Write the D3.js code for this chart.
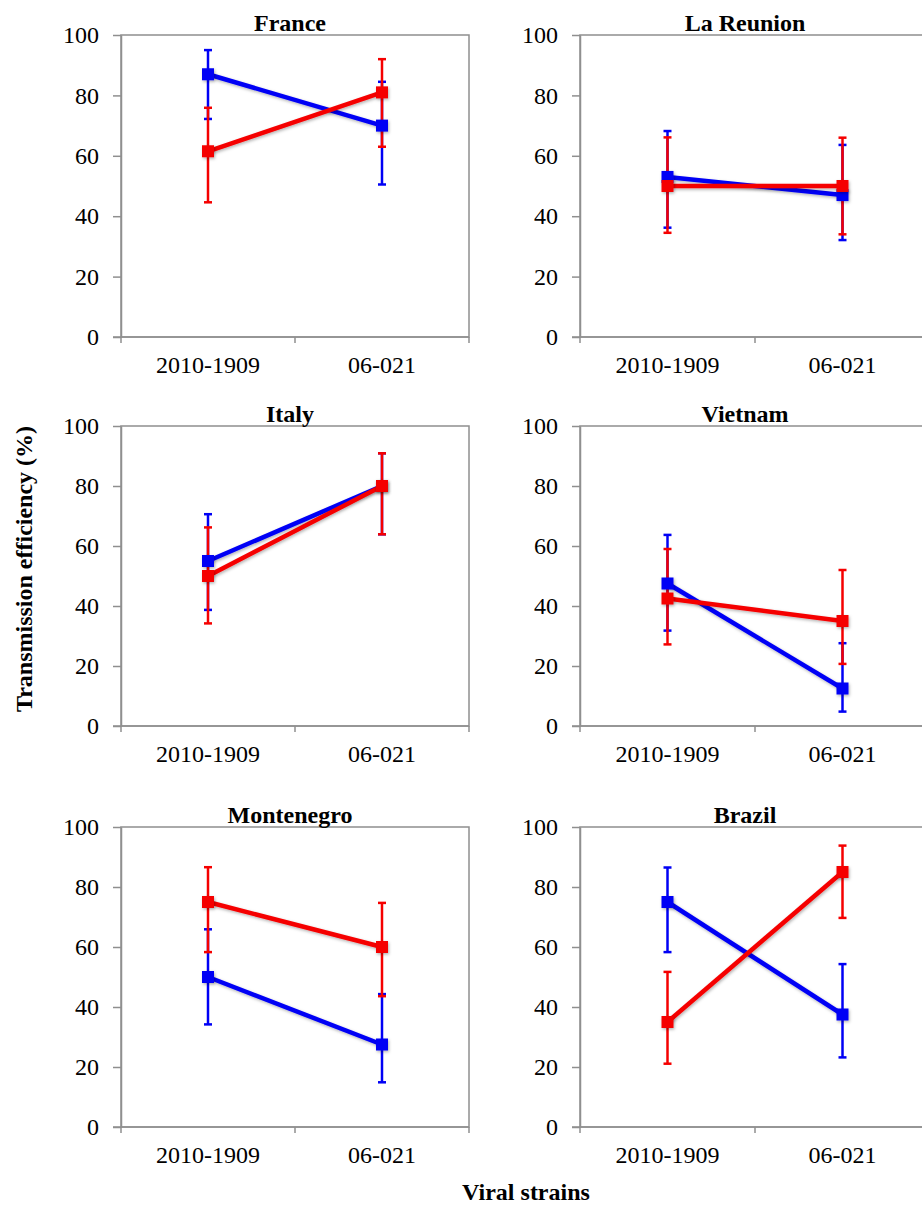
<!DOCTYPE html>
<html>
<head>
<meta charset="utf-8">
<script src="https://cdn.jsdelivr.net/npm/d3@7"></script>
<style>
  body { margin: 0; background: #fff; }
  svg { display: block; }
  svg text { font-family: "Liberation Serif", "Times New Roman", serif; }
</style>
</head>
<body>
<div id="chart"></div>
<script>
// Data (percent), one pair of values per country
const countries = ["France", "La Reunion", "Italy", "Vietnam", "Montenegro", "Brazil"];
const strains = ["2010-1909", "06-021"];
const yTicks = [0, 20, 40, 60, 80, 100];

const blueValues = [[87, 70], [53, 47], [55, 80], [47.5, 12.5], [50, 27.5], [75, 37.5]];
const blueLower  = [[72.2, 50.5], [36.2, 32.1], [38.7, 63.9], [31.8, 4.8], [34.2, 14.9], [58.3, 23.2]];
const blueUpper  = [[95, 84.5], [68.2, 63.6], [70.6, 90.9], [63.7, 27.6], [65.9, 44.3], [86.5, 54.3]];

const redValues = [[61.5, 81], [50, 50], [50, 80], [42.5, 35], [75, 60], [35, 85]];
const redLower  = [[44.6, 63], [34.5, 34], [34.2, 63.9], [27.2, 20.7], [58.3, 43.6], [21.1, 69.7]];
const redUpper  = [[75.9, 92], [66.1, 66], [66.2, 90.9], [59, 52], [86.6, 74.7], [51.7, 93.8]];

const series = [
  {color: "#0000f5", values: blueValues, lower: blueLower, upper: blueUpper},
  {color: "#f50000", values: redValues, lower: redLower, upper: redUpper}
];

// Page layout
const W = 922, H = 1205;
const colX = [121, 580], colW = [348, 350], titleX = [290, 745];
const rowTop = [35, 426, 827], rowH = [302, 300, 300];
const frameColor = "#8f8f8f";
const serif = "'Liberation Serif', 'Times New Roman', serif";

const svg = d3.select("#chart").append("svg")
    .attr("width", W)
    .attr("height", H);

// soft shadow like the original markers (user space, so flat lines keep it)
const defs = svg.append("defs");
defs.append("filter")
    .attr("id", "shadow")
    .attr("filterUnits", "userSpaceOnUse")
    .attr("x", 0).attr("y", 0).attr("width", W).attr("height", H)
  .append("feDropShadow")
    .attr("dx", 1).attr("dy", 1.5).attr("stdDeviation", 1.5)
    .attr("flood-color", "#000").attr("flood-opacity", 0.3);

countries.forEach(function(country, i) {
  const col = i % 2, row = Math.floor(i / 2);
  const x0 = colX[col], w = colW[col], top = rowTop[row], h = rowH[row];

  const x = d3.scaleBand().domain(strains).range([x0, x0 + w]);
  const y = d3.scaleLinear().domain([0, 100]).range([top + h, top]);
  const cx = function(s) { return x(s) + x.bandwidth() / 2; };

  const g = svg.append("g");

  // plot frame
  g.append("rect")
      .attr("x", x0).attr("y", top)
      .attr("width", w).attr("height", h)
      .attr("fill", "none")
      .attr("stroke", frameColor)
      .attr("stroke-width", 1.5);

  // Y axis
  const yAxis = g.append("g")
      .attr("transform", `translate(${x0},0)`)
      .call(d3.axisLeft(y).tickValues(yTicks).tickSize(8).tickSizeOuter(0).tickPadding(14));
  yAxis.selectAll("path, line").attr("stroke", frameColor).attr("stroke-width", 1.5);
  yAxis.selectAll("text")
      .attr("fill", "#000")
      .style("font-family", serif)
      .style("font-size", "24px");

  // X axis: labels at band centres, ticks at band edges
  const xAxis = g.append("g")
      .attr("transform", `translate(0,${top + h})`)
      .call(d3.axisBottom(x).tickSize(0).tickSizeOuter(0).tickPadding(19));
  xAxis.select(".domain").remove();
  xAxis.selectAll("text")
      .attr("fill", "#000")
      .style("font-family", serif)
      .style("font-size", "24px");
  g.append("line")
      .attr("x1", x0 - 8).attr("x2", x0 + w)
      .attr("y1", top + h).attr("y2", top + h)
      .attr("stroke", frameColor).attr("stroke-width", 1.5);
  g.selectAll(".xedge")
    .data([0, 1, 2])
    .join("line")
      .attr("x1", function(k) { return x0 + k * x.step(); })
      .attr("x2", function(k) { return x0 + k * x.step(); })
      .attr("y1", top + h).attr("y2", top + h + 6)
      .attr("stroke", frameColor).attr("stroke-width", 1.5);

  // panel title
  g.append("text")
      .attr("x", titleX[col]).attr("y", top - 4.5)
      .attr("text-anchor", "middle")
      .attr("font-size", 24).attr("font-weight", "bold")
      .text(country);

  // lines
  series.forEach(function(s) {
    const pts = strains.map(function(st, j) { return {s: st, v: s.values[i][j]}; });
    g.append("path")
        .datum(pts)
        .attr("fill", "none")
        .attr("stroke", s.color)
        .attr("stroke-width", 4.5)
        .attr("filter", "url(#shadow)")
        .attr("d", d3.line()
          .x(function(d) { return cx(d.s); })
          .y(function(d) { return y(d.v); }));
  });

  // error bars
  series.forEach(function(s) {
    const bars = strains.map(function(st, j) { return {s: st, lo: s.lower[i][j], hi: s.upper[i][j]}; });
    const eb = g.append("g").attr("stroke", s.color).attr("stroke-width", 2.5);
    eb.selectAll(".stem").data(bars).join("line")
        .attr("x1", function(d) { return cx(d.s); })
        .attr("x2", function(d) { return cx(d.s); })
        .attr("y1", function(d) { return y(d.lo); })
        .attr("y2", function(d) { return y(d.hi); });
    eb.selectAll(".cap").data(bars.flatMap(function(d) { return [{s: d.s, v: d.lo}, {s: d.s, v: d.hi}]; })).join("line")
        .attr("x1", function(d) { return cx(d.s) - 4; })
        .attr("x2", function(d) { return cx(d.s) + 4; })
        .attr("y1", function(d) { return y(d.v); })
        .attr("y2", function(d) { return y(d.v); });
  });

  // markers
  series.forEach(function(s) {
    g.selectAll(null)
      .data(strains.map(function(st, j) { return {s: st, v: s.values[i][j]}; }))
      .join("rect")
        .attr("x", function(d) { return cx(d.s) - 6; })
        .attr("y", function(d) { return y(d.v) - 6; })
        .attr("width", 12).attr("height", 12)
        .attr("fill", s.color)
        .attr("filter", "url(#shadow)");
  });
});

// shared axis titles
svg.append("text")
    .attr("transform", "translate(32,569) rotate(-90)")
    .attr("text-anchor", "middle")
    .attr("font-size", 24).attr("font-weight", "bold")
    .text("Transmission efficiency (%)");

svg.append("text")
    .attr("x", 526).attr("y", 1200)
    .attr("text-anchor", "middle")
    .attr("font-size", 24).attr("font-weight", "bold")
    .text("Viral strains");
</script>
</body>
</html>
